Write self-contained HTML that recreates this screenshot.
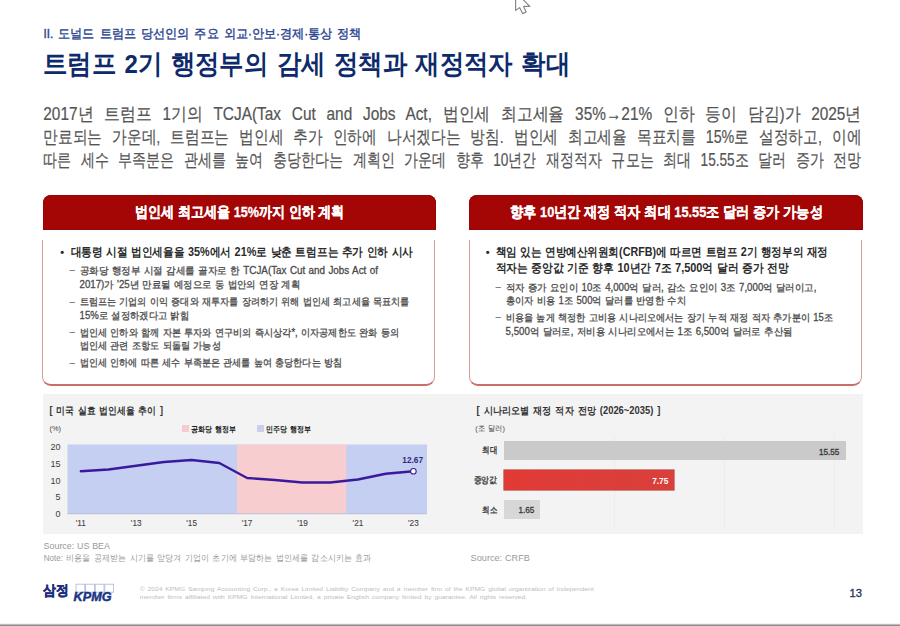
<!DOCTYPE html>
<html lang="ko">
<head>
<meta charset="utf-8">
<title>트럼프 2기 행정부의 감세 정책과 재정적자 확대</title>
<style>
html,body{margin:0;padding:0;}
body{width:900px;height:626px;overflow:hidden;background:#fff;position:relative;font-family:"Liberation Sans",sans-serif;}
.abs{position:absolute;}
.tx{position:absolute;left:0;top:0;width:900px;height:626px;font-family:"Liberation Sans",sans-serif;}
.hd{position:absolute;top:195px;height:34.6px;background:#a40606;border-radius:8px 8px 0 0;box-shadow:inset 0 0 0 1px #960404;}
.card{position:absolute;top:239.5px;height:144.4px;border:1.5px solid #d89a96;border-bottom:2px solid #c86f68;border-top:none;border-radius:0 0 9px 9px;box-sizing:content-box;}
</style>
</head>
<body>

<div id="cursor">
<svg class="abs" style="left:510px;top:0" width="26" height="18" viewBox="510 0 26 18"><path d="M515.6 -8 L515.6 10.4 L519.6 7.6 L522.6 13.6 L526.2 12 L523.6 6.4 L529.8 6.4 Z" fill="#fff" stroke="#858585" stroke-width="1.15" stroke-linejoin="round"/></svg>
</div>
<header id="header">
<svg class="tx" width="900" height="626" viewBox="0 0 900 626">
<text x="43.50" y="38.04" font-size="12.5" fill="#2a4590" textLength="318.00" lengthAdjust="spacingAndGlyphs" word-spacing="1.88" stroke="#2a4590" stroke-width="0.4">II. 도널드 트럼프 당선인의 주요 외교·안보·경제·통상 정책</text>
<text x="42.94" y="72.89" font-size="26.5" fill="#0d2a6b" font-weight="bold" textLength="527.12" lengthAdjust="spacingAndGlyphs" word-spacing="1.86">트럼프 2기 행정부의 감세 정책과 재정적자 확대</text>
</svg>
</header>
<section id="summary">
<svg class="tx" width="900" height="626" viewBox="0 0 900 626">
<text x="43.30" y="119.51" font-size="17.5" fill="#555" textLength="818.00" lengthAdjust="spacingAndGlyphs" word-spacing="7.35" stroke="#555" stroke-width="0.2">2017년 트럼프 1기의 TCJA(Tax Cut and Jobs Act, 법인세 최고세율 35%→21% 인하 등이 담김)가 2025년</text>
<text x="43.30" y="142.61" font-size="17.5" fill="#555" textLength="818.00" lengthAdjust="spacingAndGlyphs" word-spacing="7.35" stroke="#555" stroke-width="0.2">만료되는 가운데, 트럼프는 법인세 추가 인하에 나서겠다는 방침. 법인세 최고세율 목표치를 15%로 설정하고, 이에</text>
<text x="43.30" y="165.71" font-size="17.5" fill="#555" textLength="818.00" lengthAdjust="spacingAndGlyphs" word-spacing="7.35" stroke="#555" stroke-width="0.2">따른 세수 부족분은 관세를 높여 충당한다는 계획인 가운데 향후 10년간 재정적자 규모는 최대 15.55조 달러 증가 전망</text>
</svg>
</section>
<section id="cards">
<div class="hd" style="left:43px;width:392.5px"></div>
<div class="hd" style="left:469px;width:393.5px"></div>
<div class="card" style="left:42.45px;width:390.9px"></div>
<div class="card" style="left:468.85px;width:390.9px"></div>
<svg class="tx" width="900" height="626" viewBox="0 0 900 626">
<text x="135.22" y="217.09" font-size="14.5" fill="#fff" font-weight="bold" textLength="209.16" lengthAdjust="spacingAndGlyphs" stroke="#fff" stroke-width="0.3">법인세 최고세율 15%까지 인하 계획</text>
<text x="510.02" y="217.09" font-size="14.5" fill="#fff" font-weight="bold" textLength="312.76" lengthAdjust="spacingAndGlyphs" stroke="#fff" stroke-width="0.3">향후 10년간 재정 적자 최대 15.55조 달러 증가 가능성</text>
<text x="60.20" y="256.23" font-size="11" fill="#2b2b2b" font-weight="bold">•</text>
<text x="70.51" y="256.45" font-size="12.2" fill="#2b2b2b" font-weight="bold" textLength="342.48" lengthAdjust="spacingAndGlyphs" word-spacing="0.61">대통령 시절 법인세율을 35%에서 21%로 낮춘 트럼프는 추가 인하 시사</text>
<text x="69.60" y="273.30" font-size="10" fill="#666" textLength="5.40" lengthAdjust="spacingAndGlyphs">–</text>
<text x="79.59" y="273.83" font-size="10.3" fill="#4a4a4a" textLength="298.32" lengthAdjust="spacingAndGlyphs" word-spacing="0.72" stroke="#4a4a4a" stroke-width="0.3">공화당 행정부 시절 감세를 골자로 한 TCJA(Tax Cut and Jobs Act of</text>
<text x="79.59" y="287.58" font-size="10.3" fill="#4a4a4a" textLength="220.52" lengthAdjust="spacingAndGlyphs" word-spacing="0.72" stroke="#4a4a4a" stroke-width="0.3">2017)가 '25년 만료될 예정으로 동 법안의 연장 계획</text>
<text x="69.60" y="304.55" font-size="10" fill="#666" textLength="5.40" lengthAdjust="spacingAndGlyphs">–</text>
<text x="79.59" y="305.08" font-size="10.3" fill="#4a4a4a" textLength="329.82" lengthAdjust="spacingAndGlyphs" word-spacing="0.72" stroke="#4a4a4a" stroke-width="0.3">트럼프는 기업의 이익 증대와 재투자를 장려하기 위해 법인세 최고세율 목표치를</text>
<text x="79.59" y="318.83" font-size="10.3" fill="#4a4a4a" textLength="109.52" lengthAdjust="spacingAndGlyphs" word-spacing="0.72" stroke="#4a4a4a" stroke-width="0.3">15%로 설정하겠다고 밝힘</text>
<text x="69.60" y="335.10" font-size="10" fill="#666" textLength="5.40" lengthAdjust="spacingAndGlyphs">–</text>
<text x="79.59" y="335.63" font-size="10.3" fill="#4a4a4a" textLength="319.42" lengthAdjust="spacingAndGlyphs" word-spacing="0.72" stroke="#4a4a4a" stroke-width="0.3">법인세 인하와 함께 자본 투자와 연구비의 즉시상각*, 이자공제한도 완화 등의</text>
<text x="79.59" y="348.83" font-size="10.3" fill="#4a4a4a" textLength="141.22" lengthAdjust="spacingAndGlyphs" word-spacing="0.72" stroke="#4a4a4a" stroke-width="0.3">법인세 관련 조항도 되돌릴 가능성</text>
<text x="69.60" y="365.80" font-size="10" fill="#666" textLength="5.40" lengthAdjust="spacingAndGlyphs">–</text>
<text x="79.59" y="366.33" font-size="10.3" fill="#4a4a4a" textLength="262.52" lengthAdjust="spacingAndGlyphs" word-spacing="0.72" stroke="#4a4a4a" stroke-width="0.3">법인세 인하에 따른 세수 부족분은 관세를 높여 충당한다는 방침</text>
<text x="485.70" y="256.23" font-size="11" fill="#2b2b2b" font-weight="bold">•</text>
<text x="495.51" y="255.95" font-size="12.2" fill="#2b2b2b" font-weight="bold" textLength="332.48" lengthAdjust="spacingAndGlyphs" word-spacing="0.61">책임 있는 연방예산위원회(CRFB)에 따르면 트럼프 2기 행정부의 재정</text>
<text x="495.51" y="271.56" font-size="12.2" fill="#2b2b2b" font-weight="bold" textLength="292.98" lengthAdjust="spacingAndGlyphs" word-spacing="0.61">적자는 중앙값 기준 향후 10년간 7조 7,500억 달러 증가 전망</text>
<text x="495.60" y="290.20" font-size="10" fill="#666" textLength="5.40" lengthAdjust="spacingAndGlyphs">–</text>
<text x="505.59" y="290.73" font-size="10.3" fill="#4a4a4a" textLength="310.82" lengthAdjust="spacingAndGlyphs" word-spacing="0.72" stroke="#4a4a4a" stroke-width="0.3">적자 증가 요인이 10조 4,000억 달러, 감소 요인이 3조 7,000억 달러이고,</text>
<text x="505.59" y="304.33" font-size="10.3" fill="#4a4a4a" textLength="180.32" lengthAdjust="spacingAndGlyphs" word-spacing="0.72" stroke="#4a4a4a" stroke-width="0.3">총이자 비용 1조 500억 달러를 반영한 수치</text>
<text x="495.60" y="320.30" font-size="10" fill="#666" textLength="5.40" lengthAdjust="spacingAndGlyphs">–</text>
<text x="505.59" y="320.83" font-size="10.3" fill="#4a4a4a" textLength="327.32" lengthAdjust="spacingAndGlyphs" word-spacing="0.72" stroke="#4a4a4a" stroke-width="0.3">비용을 높게 책정한 고비용 시나리오에서는 장기 누적 재정 적자 추가분이 15조</text>
<text x="505.59" y="335.23" font-size="10.3" fill="#4a4a4a" textLength="286.82" lengthAdjust="spacingAndGlyphs" word-spacing="0.72" stroke="#4a4a4a" stroke-width="0.3">5,500억 달러로, 저비용 시나리오에서는 1조 6,500억 달러로 추산됨</text>
</svg>
</section>
<section id="charts">
<div class="abs" style="left:42.8px;top:394.4px;width:820.2px;height:140px;background:#f3f3f3"></div>
<div class="abs" style="left:181.7px;top:424.8px;width:7.2px;height:7px;background:#f4cbcf"></div>
<div class="abs" style="left:256.7px;top:424.8px;width:7.2px;height:7px;background:#cacfee"></div>
<svg class="abs" style="left:0;top:436px" width="450" height="90" viewBox="0 436 450 90"><rect x="67.5" y="444.5" width="359.5" height="69.25" fill="#c5cff1"/><rect x="237" y="444.5" width="109.25" height="69.25" fill="#f8cdcf"/><rect x="67.5" y="513.25" width="359.5" height="1" fill="#b9bfd6"/><path d="M80.8 471.25 L108.5 469.5 L136.2 465.75 L163.9 462 L191.6 460 L219.3 463 L247.1 478 L274.8 480 L302.5 482.5 L330.2 482.5 L357.9 479.5 L385.7 473.75 L413.4 471.25" fill="none" stroke="#3a1a9c" stroke-width="2.4" stroke-linejoin="round" stroke-linecap="round"/><circle cx="413.4" cy="471.25" r="2.8" fill="#fff" stroke="#3a1a9c" stroke-width="1.1"/></svg>
<div class="abs" style="left:614.0px;top:435px;width:1px;height:92.5px;background:#ececec"></div>
<div class="abs" style="left:724.0px;top:435px;width:1px;height:92.5px;background:#ececec"></div>
<div class="abs" style="left:834.0px;top:435px;width:1px;height:92.5px;background:#ececec"></div>
<div class="abs" style="left:504.1px;top:441.3px;width:341.5px;height:19.1px;background:#cacaca"></div>
<div class="abs" style="left:504.1px;top:470.4px;width:170.3px;height:19.2px;background:linear-gradient(90deg,#e23a35,#d8403b);box-shadow:0 0 0 0.6px #b5443f"></div>
<div class="abs" style="left:504.1px;top:500.4px;width:36.4px;height:19px;background:#d7d7d7"></div>
<svg class="tx" width="900" height="626" viewBox="0 0 900 626">
<text x="49.59" y="414.43" font-size="10.3" fill="#333" font-weight="bold" textLength="113.32" lengthAdjust="spacingAndGlyphs" word-spacing="1.55">[ 미국 실효 법인세율 추이 ]</text>
<text x="49.60" y="431.18" font-size="8" fill="#444" textLength="11.50" lengthAdjust="spacingAndGlyphs">(%)</text>
<text x="191.38" y="432.20" font-size="8" fill="#222" font-weight="bold" textLength="45.04" lengthAdjust="spacingAndGlyphs" word-spacing="1.20">공화당 행정부</text>
<text x="266.08" y="432.20" font-size="8" fill="#222" font-weight="bold" textLength="45.34" lengthAdjust="spacingAndGlyphs" word-spacing="1.20">민주당 행정부</text>
<text x="60.50" y="449.79" font-size="9" fill="#3c3c3c" text-anchor="end">20</text>
<text x="60.50" y="466.67" font-size="9" fill="#3c3c3c" text-anchor="end">15</text>
<text x="60.50" y="483.54" font-size="9" fill="#3c3c3c" text-anchor="end">10</text>
<text x="60.50" y="500.42" font-size="9" fill="#3c3c3c" text-anchor="end">5</text>
<text x="60.50" y="517.29" font-size="9" fill="#3c3c3c" text-anchor="end">0</text>
<text x="80.75" y="526.05" font-size="8.2" fill="#444" text-anchor="middle" stroke="#444" stroke-width="0.1">'11</text>
<text x="136.19" y="526.05" font-size="8.2" fill="#444" text-anchor="middle" stroke="#444" stroke-width="0.1">'13</text>
<text x="191.63" y="526.05" font-size="8.2" fill="#444" text-anchor="middle" stroke="#444" stroke-width="0.1">'15</text>
<text x="247.07" y="526.05" font-size="8.2" fill="#444" text-anchor="middle" stroke="#444" stroke-width="0.1">'17</text>
<text x="302.51" y="526.05" font-size="8.2" fill="#444" text-anchor="middle" stroke="#444" stroke-width="0.1">'19</text>
<text x="357.95" y="526.05" font-size="8.2" fill="#444" text-anchor="middle" stroke="#444" stroke-width="0.1">'21</text>
<text x="413.39" y="526.05" font-size="8.2" fill="#444" text-anchor="middle" stroke="#444" stroke-width="0.1">'23</text>
<text x="402.30" y="462.90" font-size="8.6" fill="#2e2a80" font-weight="bold" textLength="20.70" lengthAdjust="spacingAndGlyphs">12.67</text>
<text x="43.50" y="549.33" font-size="9.8" fill="#9a9a9a" textLength="66.50" lengthAdjust="spacingAndGlyphs" word-spacing="0.29">Source: US BEA</text>
<text x="43.64" y="560.98" font-size="9" fill="#9a9a9a" textLength="327.72" lengthAdjust="spacingAndGlyphs" word-spacing="1.35">Note: 비용을 공제받는 시기를 앞당겨 기업이 초기에 부담하는 법인세를 감소시키는 효과</text>
<text x="476.59" y="414.33" font-size="10.3" fill="#333" font-weight="bold" textLength="183.82" lengthAdjust="spacingAndGlyphs" word-spacing="1.55">[ 시나리오별 재정 적자 전망 (2026~2035) ]</text>
<text x="475.18" y="430.90" font-size="8" fill="#444" textLength="29.64" lengthAdjust="spacingAndGlyphs" word-spacing="1.20">(조 달러)</text>
<text x="482.00" y="453.47" font-size="8.6" fill="#3a3a3a" textLength="15.00" lengthAdjust="spacingAndGlyphs" stroke="#3a3a3a" stroke-width="0.35">최대</text>
<text x="473.50" y="482.67" font-size="8.6" fill="#3a3a3a" textLength="23.50" lengthAdjust="spacingAndGlyphs" stroke="#3a3a3a" stroke-width="0.35">중앙값</text>
<text x="482.00" y="512.56" font-size="8.6" fill="#3a3a3a" textLength="15.00" lengthAdjust="spacingAndGlyphs" stroke="#3a3a3a" stroke-width="0.35">최소</text>
<text x="818.90" y="454.54" font-size="9" fill="#3a3a3a" textLength="20.40" lengthAdjust="spacingAndGlyphs" stroke="#3a3a3a" stroke-width="0.35">15.55</text>
<text x="652.20" y="483.64" font-size="9" fill="#fff" font-weight="bold" textLength="16.10" lengthAdjust="spacingAndGlyphs">7.75</text>
<text x="518.40" y="513.44" font-size="9" fill="#383838" textLength="15.80" lengthAdjust="spacingAndGlyphs" stroke="#383838" stroke-width="0.3">1.65</text>
<text x="470.62" y="561.06" font-size="9.6" fill="#9a9a9a" textLength="59.27" lengthAdjust="spacingAndGlyphs" word-spacing="0.29">Source: CRFB</text>
</svg>
</section>
<footer id="footer">
<svg class="abs" style="left:72px;top:582px" width="44" height="22" viewBox="72 582 44 22"><g fill="none" stroke="#a9b7d8" stroke-width="0.8"><rect x="76" y="584.2" width="8.8" height="8"/><rect x="85.6" y="584.2" width="8.8" height="8"/><rect x="95.2" y="584.2" width="8.8" height="8"/><rect x="104.8" y="584.2" width="8.8" height="8"/></g><text x="73.6" y="601" font-family="Liberation Sans, sans-serif" font-size="13.6" font-weight="bold" font-style="italic" fill="#1a3585" stroke="#1a3585" stroke-width="0.5" textLength="38" lengthAdjust="spacingAndGlyphs">KPMG</text></svg>
<div class="abs" style="left:0;top:623px;width:900px;height:1px;background:#f3f3f3"></div><div class="abs" style="left:0;top:624px;width:900px;height:1px;background:#bcbcbc"></div><div class="abs" style="left:0;top:625px;width:900px;height:1px;background:#8b8b8b"></div>
<svg class="tx" width="900" height="626" viewBox="0 0 900 626">
<text x="43.00" y="595.21" font-size="13.5" fill="#1d2f7c" font-weight="bold" textLength="25.50" lengthAdjust="spacingAndGlyphs" stroke="#1d2f7c" stroke-width="0.5">삼정</text>
<text x="139.75" y="591.23" font-size="6.2" fill="#bdbdbd" textLength="454.00" lengthAdjust="spacingAndGlyphs" word-spacing="0.93">© 2024 KPMG Samjong Accounting Corp., a Korea Limited Liability Company and a member firm of the KPMG global organization of independent</text>
<text x="139.75" y="599.13" font-size="6.2" fill="#bdbdbd" textLength="387.50" lengthAdjust="spacingAndGlyphs" word-spacing="0.93">member firms affiliated with KPMG International Limited, a private English company limited by guarantee. All rights reserved.</text>
<text x="849.50" y="597.14" font-size="11.5" fill="#2a3566" textLength="12.50" lengthAdjust="spacingAndGlyphs" stroke="#2a3566" stroke-width="0.35">13</text>
</svg>
</footer>
</body>
</html>
